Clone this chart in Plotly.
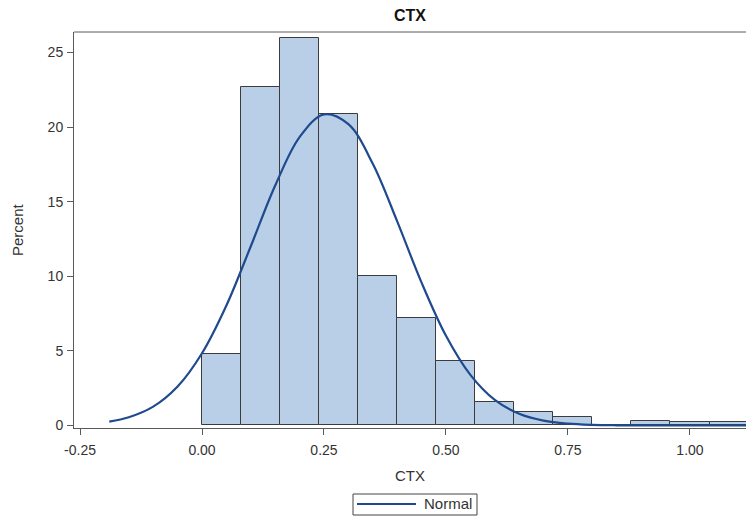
import plotly.graph_objects as go

# Histogram data (bin left edges, width 0.08)
bin_left = [0.00, 0.08, 0.16, 0.24, 0.32, 0.40, 0.48, 0.56, 0.64, 0.72, 0.80, 0.88, 0.96, 1.04]
bin_width = 0.08
percent = [4.8, 22.7, 26.0, 20.9, 10.0, 7.2, 4.3, 1.6, 0.9, 0.6, 0.05, 0.3, 0.2, 0.2]

# Normal curve points
curve_x = [-0.19, -0.15, -0.10, -0.05, 0.00, 0.05, 0.10, 0.15, 0.20, 0.25, 0.30,
           0.35, 0.40, 0.45, 0.50, 0.55, 0.60, 0.65, 0.70, 0.75, 0.80, 0.85,
           0.90, 0.95, 1.00, 1.05, 1.12]
curve_y = [0.26, 0.55, 1.26, 2.61, 4.84, 8.04, 12.01, 16.08, 19.33, 20.85, 20.19,
           17.54, 13.68, 9.57, 6.01, 3.39, 1.71, 0.78, 0.32, 0.12, 0.04, 0.01,
           0.0, 0.0, 0.0, 0.0, 0.0]

x_ticks = [-0.25, 0.00, 0.25, 0.50, 0.75, 1.00]
x_tick_text = ["-0.25", "0.00", "0.25", "0.50", "0.75", "1.00"]
y_ticks = [0, 5, 10, 15, 20, 25]

bar_fill = "#B9CFE7"
bar_edge = "#3C3C3C"
curve_color = "#1F4A8E"
axis_color = "#5A5A5A"
text_color = "#333333"
FONT = "Liberation Sans, Arial, sans-serif"

W, H = 746, 518
L, R, T, B = 74, 0, 32, 90
PW, PH = W - L - R, H - T - B


def px(xp):
    return (xp - L) / PW


def py(yp):
    return (H - B - yp) / PH


centers = [b + bin_width / 2 for b in bin_left]

fig = go.Figure()
fig.add_trace(go.Bar(
    x=centers, y=percent, width=[bin_width] * len(centers),
    marker=dict(color=bar_fill, line=dict(color=bar_edge, width=1)),
    showlegend=False, hoverinfo="x+y",
))
fig.add_trace(go.Scatter(
    x=curve_x, y=curve_y, mode="lines", name="Normal", showlegend=False,
    line=dict(color=curve_color, width=2.2, shape="spline"),
))

shapes = [
    # top frame line
    dict(type="line", xref="paper", yref="paper", x0=0, x1=1, y0=1, y1=1,
         line=dict(color=axis_color, width=1)),
    # legend box
    dict(type="rect", xref="paper", yref="paper",
         x0=px(353), x1=px(477), y0=py(494), y1=py(515),
         line=dict(color="#444444", width=1), fillcolor="white"),
    # legend line sample
    dict(type="line", xref="paper", yref="paper",
         x0=px(357), x1=px(416), y0=py(504), y1=py(504),
         line=dict(color=curve_color, width=2.2)),
]

annotations = [
    dict(text="Normal", xref="paper", yref="paper", x=px(422), y=py(504),
         xanchor="left", yanchor="middle", showarrow=False,
         font=dict(family=FONT, size=15, color=text_color)),
    dict(text="CTX", xref="paper", yref="paper", x=0.5, y=py(476),
         xanchor="center", yanchor="middle", showarrow=False,
         font=dict(family=FONT, size=15, color=text_color)),
    dict(text="Percent", xref="paper", yref="paper", x=px(17), y=0.5,
         xanchor="center", yanchor="middle", showarrow=False, textangle=-90,
         font=dict(family=FONT, size=15, color=text_color)),
]

fig.update_layout(
    width=W, height=H,
    margin=dict(l=L, r=R, t=T, b=B, autoexpand=False),
    paper_bgcolor="white", plot_bgcolor="white",
    font=dict(family=FONT, size=14, color=text_color),
    title=dict(text="<b>CTX</b>", x=(L + PW / 2) / W, xanchor="center",
               y=1 - 15 / H, yanchor="middle",
               font=dict(family=FONT, size=16, color="#111111")),
    bargap=0,
    showlegend=False,
    shapes=shapes,
    annotations=annotations,
)

fig.update_xaxes(
    range=[-0.2623, 1.1148], tickvals=x_ticks, ticktext=x_tick_text,
    showgrid=False, zeroline=False, showline=True, linecolor=axis_color, linewidth=1,
    ticks="outside", ticklen=6, tickcolor=axis_color, automargin=False,
    ticklabelstandoff=3,
    tickfont=dict(family=FONT, size=14, color=text_color),
)
fig.update_yaxes(
    range=[-0.17, 26.37], tickvals=y_ticks,
    showgrid=False, zeroline=False, showline=True, linecolor=axis_color, linewidth=1,
    ticks="outside", ticklen=6, tickcolor=axis_color, automargin=False,
    ticklabelstandoff=1,
    tickfont=dict(family=FONT, size=14, color=text_color),
)

fig.write_html(
    "out.html",
    config={"displayModeBar": False},
    post_script="document.body.style.margin='0';document.body.style.overflow='hidden';",
)
